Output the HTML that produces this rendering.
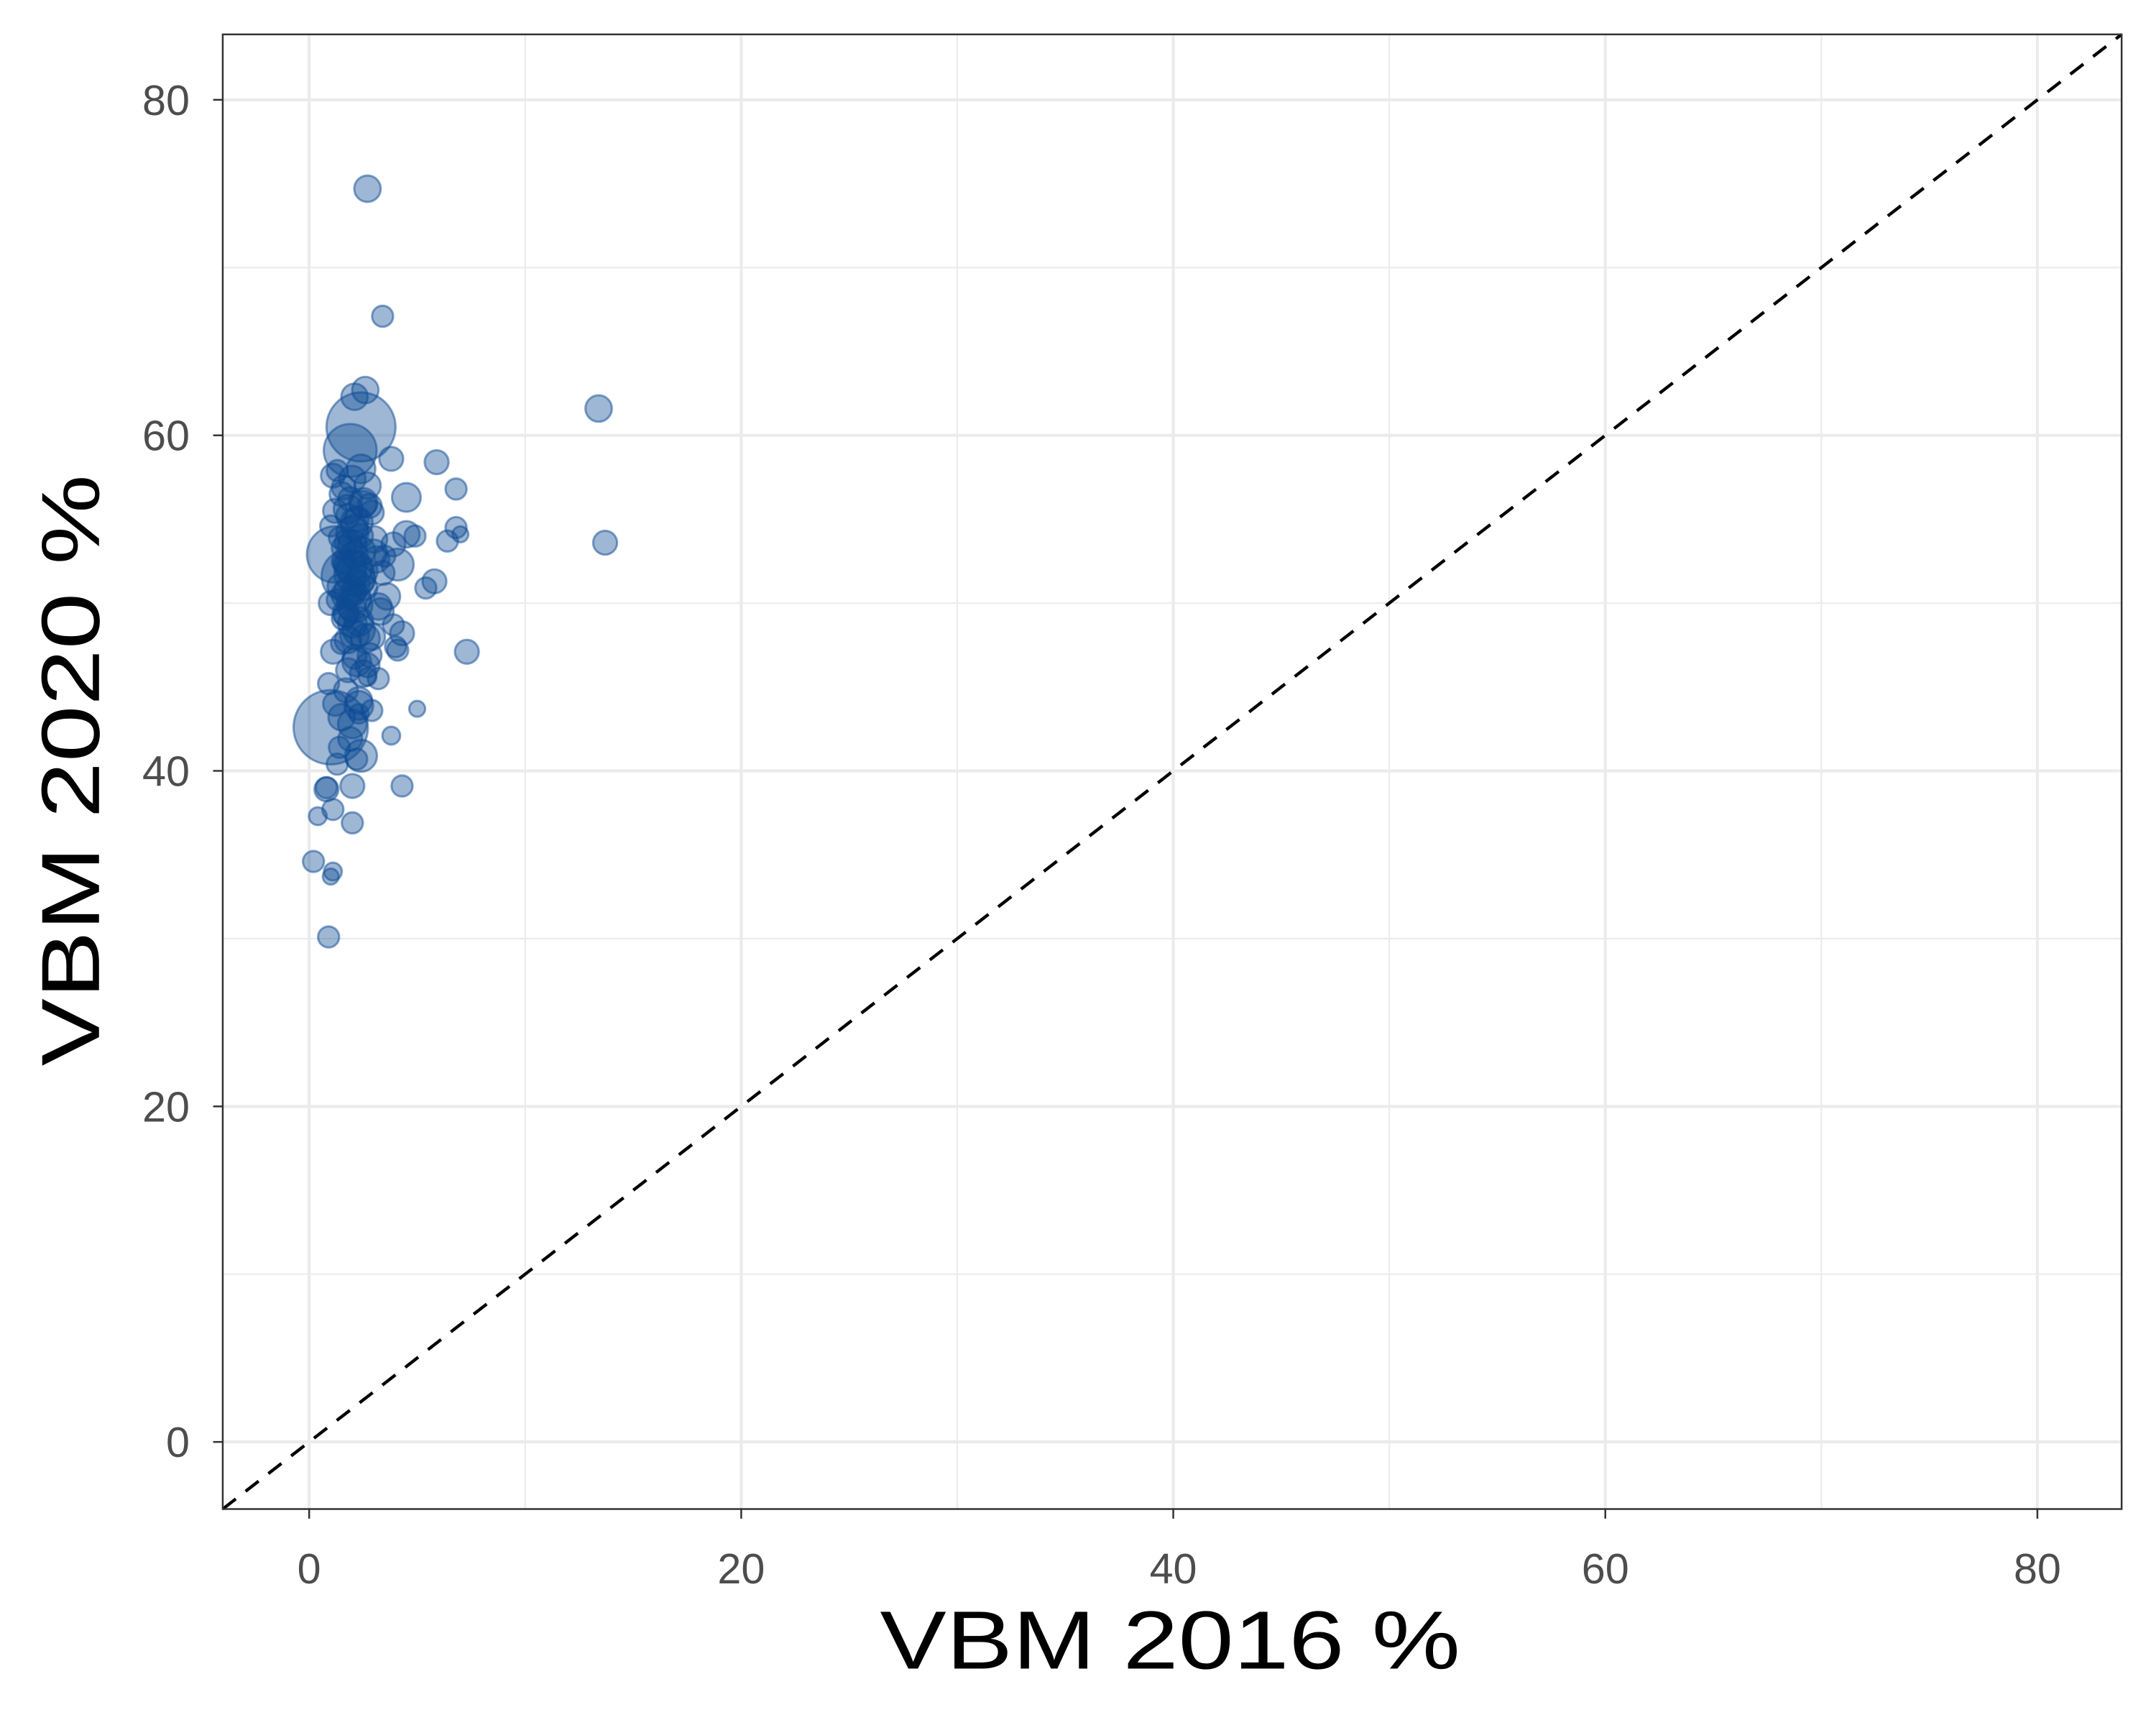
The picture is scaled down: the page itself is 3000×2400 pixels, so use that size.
<!DOCTYPE html>
<html><head><meta charset="utf-8"><style>
html,body{margin:0;padding:0;background:#fff;}
svg{display:block;}
text{font-family:"Liberation Sans",sans-serif;}
</style></head><body>
<svg id="chart" width="3000" height="2400" viewBox="0 0 1568 1254" preserveAspectRatio="none" xmlns="http://www.w3.org/2000/svg">
<rect x="0" y="0" width="1600" height="1300" fill="#fff"/>
<g id="grid"></g>
<g id="points"></g>
<g id="axes"></g>
<text x="851" y="1213" font-size="60" textLength="422" lengthAdjust="spacingAndGlyphs" text-anchor="middle" fill="#000">VBM 2016 %</text>
<text transform="translate(72,560) rotate(-90)" font-size="60" textLength="430" lengthAdjust="spacingAndGlyphs" text-anchor="middle" fill="#000">VBM 2020 %</text>
</svg>
<script>
const xVals = [2.7,3.4,13.4,13.7,7.3,6.8,5.9,6.8,7.0,6.4,5.8,5.4,5.0,4.3,3.8,2.0,2.0,0.2,1.1,1.0,0.9,0.4,1.1,0.8,1.0,1.3,2.2,2.4,1.9,1.0,1.2,1.8,2.6,2.1,4.5,3.8,4.1,4.5,4.9,4.3,3.9,4.1,3.2,2.7,2.9,2.3,
1.5,2.0,2.5,1.8,2.2,1.4,2.8,3.0,1.6,2.1,2.4,1.9,1.3,2.6,3.2,1.7,2.0,2.3,1.5,2.9,1.1,2.2,1.8,2.5,3.4,1.6,2.0,2.7,1.2,2.4,1.9,3.1,1.4,2.1,2.6,1.7,2.3,0.9,1.5,2.0,2.8,3.6,1.3,2.2,1.8,2.5,1.0,1.6,2.1,3.0,1.4,2.4,1.9,0.8,1.2,2.7,3.3,1.6,2.0,1.1,2.3,3.9,3.5,2.9,4.0,
1.8,2.1,2.4,1.9,2.2,1.7,2.0,2.3,1.8,2.1,1.6,2.5,2.0,1.9,2.2,1.7,2.4,2.1];
const yVals = [74.7,67.1,61.6,53.6,47.1,56.8,58.4,54.5,54.1,53.7,51.3,50.9,43.7,39.1,42.1,36.9,39.1,34.6,34.0,33.7,30.1,37.3,37.7,38.9,54.6,40.4,40.7,60.5,59.1,42.6,52.9,51.6,62.7,62.3,56.3,58.6,52.3,54.1,54.0,48.2,48.7,47.2,45.5,45.6,43.6,43.4,
56.5,57.4,56.0,55.2,54.8,53.9,55.8,53.0,52.5,52.1,51.4,50.7,50.2,50.9,49.8,49.3,48.8,48.4,47.6,48.0,47.1,46.5,46.0,45.8,51.8,53.3,54.2,57.0,55.5,58.0,56.2,52.6,51.0,49.9,47.9,44.8,44.2,45.2,43.2,42.8,46.9,50.4,57.9,55.0,53.6,51.9,50.0,49.1,48.1,53.8,41.4,40.9,41.9,39.0,44.0,46.3,49.5,52.4,50.6,57.6,43.9,53.5,52.8,55.4,47.4,
55.6,54.5,53.1,52.2,51.2,50.5,49.7,48.9,47.8,46.8,56.9,55.9,53.5,51.7,50.3,49.4,54.0,52.9];
const sizes = [11,7,11,9,9,7,9,7,4,7,9,7,4,7,5,7,9,7,5,4,7,5,7,9,7,7,7,75,44,87,50,44,11,11,13,9,16,11,7,9,7,7,7,5,7,6,
9,11,13,9,16,7,9,11,9,20,13,16,7,9,11,9,13,16,7,11,9,13,9,11,9,9,16,11,9,13,9,11,9,20,13,9,11,7,11,13,9,11,7,9,11,13,9,9,13,11,7,16,9,7,9,9,11,7,9,9,13,9,7,9,7,
13,11,13,16,11,13,11,13,11,9,9,11,13,16,13,11,9,11];
</script>
<script>
const NS="http://www.w3.org/2000/svg";
const L=162,R=1543,T=25,B=1097,DMIN=-4.0,DMAX=83.9;
function sx(v){return L+(v-DMIN)/(DMAX-DMIN)*(R-L);}
function sy(v){return B-(v-DMIN)/(DMAX-DMIN)*(B-T);}
function mk(tag,attrs,parent){const e=document.createElementNS(NS,tag);for(const k in attrs)e.setAttribute(k,attrs[k]);parent.appendChild(e);return e;}
const grid=document.getElementById('grid'),pts=document.getElementById('points'),axes=document.getElementById('axes');
const majorTicks=[0,20,40,60,80],minorTicks=[10,30,50,70];
const tickLabels=["0","20","40","60","80"];
for(const v of minorTicks){
 let a=mk('line',{x1:sx(v),x2:sx(v),y1:T,y2:B,stroke:'#ebebeb','stroke-width':1.1},grid);
 
 
 let b=mk('line',{x1:L,x2:R,y1:sy(v),y2:sy(v),stroke:'#ebebeb','stroke-width':1.1},grid);
 
 
}
for(const v of majorTicks){
 let a=mk('line',{x1:sx(v),x2:sx(v),y1:T,y2:B,stroke:'#ebebeb','stroke-width':2.2},grid);
 
 
 let b=mk('line',{x1:L,x2:R,y1:sy(v),y2:sy(v),stroke:'#ebebeb','stroke-width':2.2},grid);
 
 
}
for(let i=0;i<xVals.length;i++){
 const r=Math.sqrt(sizes[i])*2.9;
 const c=mk('circle',{cx:sx(xVals[i]),cy:sy(yVals[i]),r:r,fill:'#0d4a93','fill-opacity':0.4,stroke:'#0d4a93','stroke-opacity':0.5,'stroke-width':1.6},pts);
 
 
}
const dl=mk('line',{x1:sx(DMIN),y1:sy(DMIN),x2:sx(DMAX),y2:sy(DMAX),stroke:'#000','stroke-width':2.3,'stroke-dasharray':'12 9'},axes);


const fr=mk('rect',{x:L,y:T,width:R-L,height:B-T,fill:'none',stroke:'#333','stroke-width':1.3},axes);


majorTicks.forEach((v,i)=>{
 let t=mk('line',{x1:sx(v),x2:sx(v),y1:B,y2:B+7,stroke:'#333','stroke-width':1.3},axes);
 
 
 let tl=mk('text',{x:sx(v),y:1151,'font-size':31,'text-anchor':'middle',fill:'#4d4d4d'},axes);
 tl.textContent=tickLabels[i];
 
 
 let u=mk('line',{x1:L-7,x2:L,y1:sy(v),y2:sy(v),stroke:'#333','stroke-width':1.3},axes);
 
 
 let ul=mk('text',{x:138,y:sy(v)+11,'font-size':31,'text-anchor':'end',fill:'#4d4d4d'},axes);
 ul.textContent=tickLabels[i];
 
 
});
</script>
</body></html>
